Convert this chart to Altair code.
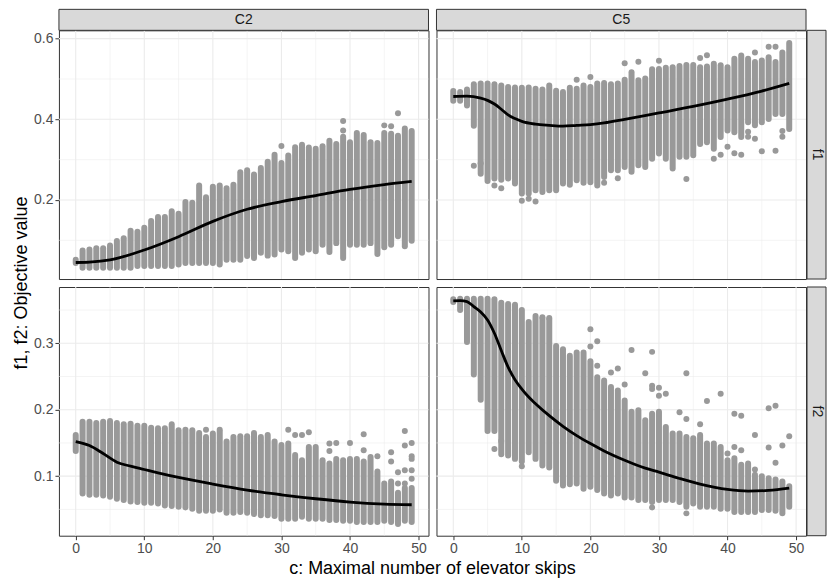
import altair as alt
import pandas as pd

# ---------------- data ----------------
C_VALUES = list(range(50))

# C2 / f1 : extent of the dense column of points at each c
C2_F1_LO = [0.044, 0.032, 0.032, 0.032, 0.032, 0.032, 0.032, 0.032, 0.032, 0.036,
            0.036, 0.036, 0.036, 0.036, 0.036, 0.040, 0.044, 0.044, 0.044, 0.044,
            0.044, 0.040, 0.052, 0.052, 0.052, 0.061, 0.056, 0.069, 0.062, 0.065,
            0.077, 0.073, 0.056, 0.069, 0.077, 0.073, 0.089, 0.071, 0.093, 0.056,
            0.089, 0.089, 0.089, 0.093, 0.066, 0.083, 0.089, 0.110, 0.085, 0.099]
C2_F1_HI = [0.052, 0.075, 0.077, 0.080, 0.080, 0.087, 0.098, 0.105, 0.124, 0.121,
            0.131, 0.148, 0.158, 0.158, 0.172, 0.166, 0.195, 0.193, 0.236, 0.207,
            0.233, 0.236, 0.229, 0.238, 0.269, 0.274, 0.263, 0.279, 0.295, 0.312,
            0.292, 0.310, 0.331, 0.337, 0.330, 0.327, 0.333, 0.347, 0.339, 0.357,
            0.343, 0.366, 0.361, 0.343, 0.341, 0.366, 0.364, 0.359, 0.377, 0.371]
C2_F1_OUT_X = [30, 39, 39, 45, 46, 47]
C2_F1_OUT_Y = [0.334, 0.396, 0.372, 0.385, 0.383, 0.415]
C2_F1_FIT_X = [0, 2, 5, 10, 15, 20, 25, 30, 35, 40, 45, 49]
C2_F1_FIT_Y = [0.045, 0.046, 0.0515, 0.076, 0.109, 0.147, 0.177, 0.196, 0.211, 0.226,
               0.238, 0.246]

# C5 / f1
C5_F1_LO = [0.446, 0.446, 0.434, 0.384, 0.265, 0.247, 0.253, 0.250, 0.253, 0.241,
            0.216, 0.216, 0.224, 0.220, 0.224, 0.224, 0.241, 0.238, 0.249, 0.243,
            0.244, 0.236, 0.257, 0.274, 0.274, 0.282, 0.270, 0.286, 0.282, 0.302,
            0.315, 0.302, 0.278, 0.307, 0.307, 0.311, 0.339, 0.343, 0.327, 0.356,
            0.372, 0.368, 0.356, 0.393, 0.385, 0.393, 0.401, 0.413, 0.413, 0.376]
C5_F1_HI = [0.470, 0.468, 0.474, 0.487, 0.489, 0.489, 0.487, 0.484, 0.480, 0.479,
            0.478, 0.479, 0.476, 0.474, 0.484, 0.471, 0.468, 0.478, 0.476, 0.484,
            0.480, 0.489, 0.490, 0.487, 0.489, 0.498, 0.517, 0.497, 0.501, 0.524,
            0.525, 0.528, 0.529, 0.532, 0.535, 0.535, 0.529, 0.531, 0.538, 0.534,
            0.529, 0.550, 0.558, 0.550, 0.542, 0.546, 0.554, 0.542, 0.566, 0.589]
C5_F1_OUT_X = [3, 4, 6, 7, 10, 11, 12, 18, 20, 22, 24, 25, 27, 30, 34, 36, 37, 38, 39,
               40, 41, 42, 43, 43, 44, 44, 45, 46, 47, 47, 48, 48]
C5_F1_OUT_Y = [0.285, 0.291, 0.236, 0.229, 0.198, 0.203, 0.196, 0.498, 0.505, 0.243,
               0.254, 0.539, 0.543, 0.545, 0.252, 0.552, 0.559, 0.302, 0.312, 0.332,
               0.316, 0.312, 0.369, 0.357, 0.566, 0.352, 0.321, 0.580, 0.580, 0.322,
               0.371, 0.357]
C5_F1_FIT_X = [0, 2, 4, 5, 6, 7, 8, 9, 10, 12, 14, 16, 18, 20, 22, 25, 30, 35, 40, 45, 49]
C5_F1_FIT_Y = [0.4566, 0.4574, 0.4525, 0.447, 0.438, 0.425, 0.411, 0.402, 0.395, 0.388,
               0.385, 0.383, 0.385, 0.387, 0.391, 0.400, 0.416, 0.432, 0.450, 0.470, 0.489]

# C2 / f2
C2_F2_LO = [0.138, 0.074, 0.072, 0.072, 0.071, 0.069, 0.066, 0.064, 0.062, 0.061,
            0.060, 0.060, 0.059, 0.056, 0.055, 0.054, 0.053, 0.051, 0.048, 0.048,
            0.048, 0.050, 0.045, 0.045, 0.046, 0.045, 0.043, 0.041, 0.041, 0.040,
            0.036, 0.036, 0.036, 0.039, 0.036, 0.036, 0.036, 0.034, 0.034, 0.033,
            0.033, 0.031, 0.031, 0.031, 0.031, 0.033, 0.031, 0.028, 0.033, 0.031]
C2_F2_HI = [0.162, 0.182, 0.182, 0.180, 0.182, 0.183, 0.180, 0.178, 0.179, 0.176,
            0.176, 0.173, 0.172, 0.172, 0.178, 0.169, 0.170, 0.169, 0.165, 0.159,
            0.164, 0.167, 0.152, 0.159, 0.160, 0.160, 0.165, 0.159, 0.162, 0.152,
            0.147, 0.149, 0.132, 0.124, 0.144, 0.144, 0.124, 0.119, 0.126, 0.124,
            0.126, 0.126, 0.122, 0.129, 0.107, 0.089, 0.092, 0.075, 0.082, 0.082]
C2_F2_OUT_X = [19, 21, 31, 32, 33, 34, 37, 37, 38, 40, 42, 42, 44, 46, 46, 47, 47,
               48, 48, 48, 48, 49, 49, 49, 49, 49]
C2_F2_OUT_Y = [0.170, 0.170, 0.170, 0.162, 0.162, 0.166, 0.149, 0.138, 0.150, 0.150,
               0.163, 0.139, 0.130, 0.136, 0.122, 0.106, 0.089, 0.168, 0.146, 0.109,
               0.089, 0.150, 0.130, 0.126, 0.109, 0.096]
C2_F2_FIT_X = [0, 2, 4, 6, 8, 10, 12, 15, 20, 25, 30, 35, 40, 45, 49]
C2_F2_FIT_Y = [0.152, 0.146, 0.134, 0.121, 0.115, 0.110, 0.105, 0.098, 0.088, 0.079,
               0.072, 0.066, 0.061, 0.058, 0.057]

# C5 / f2
C5_F2_LO = [0.362, 0.350, 0.302, 0.253, 0.215, 0.168, 0.168, 0.133, 0.131, 0.126,
            0.122, 0.136, 0.126, 0.116, 0.113, 0.093, 0.086, 0.088, 0.089, 0.081,
            0.084, 0.079, 0.074, 0.071, 0.074, 0.068, 0.068, 0.064, 0.064, 0.061,
            0.064, 0.064, 0.064, 0.061, 0.054, 0.059, 0.054, 0.054, 0.054, 0.051,
            0.051, 0.046, 0.046, 0.046, 0.046, 0.049, 0.049, 0.048, 0.044, 0.054]
C5_F2_HI = [0.366, 0.367, 0.367, 0.367, 0.367, 0.367, 0.366, 0.361, 0.359, 0.358,
            0.350, 0.332, 0.341, 0.337, 0.336, 0.296, 0.291, 0.281, 0.286, 0.286,
            0.273, 0.249, 0.244, 0.234, 0.229, 0.214, 0.197, 0.199, 0.184, 0.194,
            0.197, 0.174, 0.164, 0.164, 0.159, 0.157, 0.162, 0.149, 0.149, 0.144,
            0.124, 0.127, 0.117, 0.119, 0.102, 0.100, 0.097, 0.095, 0.092, 0.085]
C5_F2_OUT_X = [6, 7, 10, 13, 14, 20, 20, 21, 21, 23, 24, 25, 26, 28, 29, 29, 29, 29,
               30, 30, 31, 33, 34, 34, 34, 36, 37, 39, 40, 41, 41, 42, 42, 44, 44,
               46, 46, 47, 47, 48, 49]
C5_F2_OUT_Y = [0.141, 0.153, 0.115, 0.339, 0.338, 0.321, 0.295, 0.303, 0.266, 0.256,
               0.262, 0.238, 0.290, 0.255, 0.287, 0.236, 0.231, 0.053, 0.233, 0.221,
               0.224, 0.196, 0.255, 0.186, 0.044, 0.178, 0.213, 0.224, 0.134, 0.194,
               0.144, 0.191, 0.139, 0.162, 0.110, 0.202, 0.143, 0.206, 0.120, 0.146,
               0.160]
C5_F2_FIT_X = [0, 1, 2, 3, 4, 5, 6, 7, 8, 9, 10, 11, 12, 14, 16, 18, 20, 22, 25, 28,
               30, 33, 36, 40, 43, 46, 49]
C5_F2_FIT_Y = [0.3636, 0.364, 0.3626, 0.355, 0.347, 0.335, 0.315, 0.289, 0.264, 0.245,
               0.231, 0.219, 0.209, 0.191, 0.175, 0.161, 0.149, 0.138, 0.124, 0.112,
               0.106, 0.0965, 0.088, 0.080, 0.0775, 0.0785, 0.082]

COL_LABELS = ["C2", "C5"]
ROW_LABELS = ["f1", "f2"]
X_TITLE = ["c: Maximal number of elevator skips"]
Y_TITLE = ["f1, f2: Objective value"]

X_DOMAIN = [-2.45, 51.45]
Y_DOMAIN_F1 = [0.004, 0.6207]
Y_DOMAIN_F2 = [0.0104, 0.3846]
X_MAJOR = [0, 10, 20, 30, 40, 50]
X_MINOR = [5, 15, 25, 35, 45]
Y_MAJOR_F1 = [0.2, 0.4, 0.6]
Y_MINOR_F1 = [0.1, 0.3, 0.5]
Y_MAJOR_F2 = [0.1, 0.2, 0.3]
Y_MINOR_F2 = [0.05, 0.15, 0.25, 0.35]

# ---------------- styling ----------------
W, H = 370, 249
STRIP = 21
FONT = "Liberation Sans"
POINT = "#999999"
BORDER = "#333333"
GRID = "#EBEBEB"
TICK_FS = 14
TITLE_FS = 18


def axis_spec(values, fmt, show):
    if not show:
        return None
    return alt.Axis(values=values, format=fmt, grid=False, domain=False,
                    ticks=True, tickColor=BORDER, tickSize=4, tickWidth=1,
                    labelColor="#4D4D4D", labelFontSize=TICK_FS, labelFont=FONT,
                    labelPadding=2, title=None)


def panel(lo, hi, ox, oy, fx, fy, ydom, ymaj, ymin, col_i, row_i):
    left = col_i == 0
    bottom = row_i == 1
    xs = alt.Scale(domain=X_DOMAIN, nice=False, zero=False)
    ys = alt.Scale(domain=ydom, nice=False, zero=False)
    xax = axis_spec(X_MAJOR, "d", bottom)
    yax = axis_spec(ymaj, ".1f", left)

    layers = []
    cols = pd.DataFrame({"c": C_VALUES, "lo": lo, "hi": hi})
    # first layer carries both axes
    layers.append(alt.Chart(cols).mark_rule(opacity=0).encode(
        x=alt.X("c:Q", scale=xs, axis=xax),
        y=alt.Y("lo:Q", scale=ys, axis=yax)))
    layers.append(alt.Chart(pd.DataFrame({"v": X_MINOR})).mark_rule(
        color=GRID, strokeWidth=0.55).encode(x=alt.X("v:Q", scale=xs, axis=xax)))
    layers.append(alt.Chart(pd.DataFrame({"v": ymin})).mark_rule(
        color=GRID, strokeWidth=0.55).encode(y=alt.Y("v:Q", scale=ys, axis=yax)))
    layers.append(alt.Chart(pd.DataFrame({"v": X_MAJOR})).mark_rule(
        color=GRID, strokeWidth=1.1).encode(x=alt.X("v:Q", scale=xs, axis=xax)))
    layers.append(alt.Chart(pd.DataFrame({"v": ymaj})).mark_rule(
        color=GRID, strokeWidth=1.1).encode(y=alt.Y("v:Q", scale=ys, axis=yax)))

    layers.append(alt.Chart(cols).mark_rule(
        color=POINT, strokeWidth=6, strokeCap="round").encode(
        x=alt.X("c:Q", scale=xs, axis=xax),
        y=alt.Y("lo:Q", scale=ys, axis=yax),
        y2="hi:Q"))

    outs = pd.DataFrame({"c": ox, "v": oy})
    layers.append(alt.Chart(outs).mark_circle(
        color=POINT, opacity=1, size=36).encode(
        x=alt.X("c:Q", scale=xs, axis=xax),
        y=alt.Y("v:Q", scale=ys, axis=yax)))

    fit = pd.DataFrame({"c": fx, "v": fy})
    layers.append(alt.Chart(fit).mark_line(
        color="#000000", strokeWidth=2.8, interpolate="monotone").encode(
        x=alt.X("c:Q", scale=xs, axis=xax),
        y=alt.Y("v:Q", scale=ys, axis=yax)))

    if row_i == 0:
        lab = pd.DataFrame({"t": [COL_LABELS[col_i]]})
        layers.append(alt.Chart(lab).mark_rect(
            fill="#D9D9D9", stroke=BORDER, strokeWidth=1).encode(
            x=alt.value(0), x2=alt.value(W), y=alt.value(-STRIP), y2=alt.value(0)))
        layers.append(alt.Chart(lab).mark_text(
            font=FONT, fontSize=TICK_FS, color="#1A1A1A").encode(
            x=alt.value(W / 2), y=alt.value(-STRIP / 2), text="t:N"))
    if col_i == 1:
        lab = pd.DataFrame({"t": [ROW_LABELS[row_i]]})
        layers.append(alt.Chart(lab).mark_rect(
            fill="#D9D9D9", stroke=BORDER, strokeWidth=1).encode(
            x=alt.value(W + 1), x2=alt.value(W + 20), y=alt.value(0), y2=alt.value(H)))
        layers.append(alt.Chart(lab).mark_text(
            font=FONT, fontSize=TICK_FS, color="#1A1A1A", angle=90).encode(
            x=alt.value(W + 10.5), y=alt.value(H / 2), text="t:N"))
    if row_i == 0 and col_i == 0:
        layers.append(alt.Chart(pd.DataFrame({"t": Y_TITLE})).mark_text(
            font=FONT, fontSize=TITLE_FS, color="#000000", angle=270).encode(
            x=alt.value(-37), y=alt.value(H + 4), text="t:N"))
    if row_i == 1 and col_i == 0:
        layers.append(alt.Chart(pd.DataFrame({"t": X_TITLE})).mark_text(
            font=FONT, fontSize=TITLE_FS, color="#000000").encode(
            x=alt.value(W + 4), y=alt.value(H + 33), text="t:N"))

    return alt.layer(*layers).properties(width=W, height=H)


p11 = panel(C2_F1_LO, C2_F1_HI, C2_F1_OUT_X, C2_F1_OUT_Y, C2_F1_FIT_X, C2_F1_FIT_Y,
            Y_DOMAIN_F1, Y_MAJOR_F1, Y_MINOR_F1, 0, 0)
p12 = panel(C5_F1_LO, C5_F1_HI, C5_F1_OUT_X, C5_F1_OUT_Y, C5_F1_FIT_X, C5_F1_FIT_Y,
            Y_DOMAIN_F1, Y_MAJOR_F1, Y_MINOR_F1, 1, 0)
p21 = panel(C2_F2_LO, C2_F2_HI, C2_F2_OUT_X, C2_F2_OUT_Y, C2_F2_FIT_X, C2_F2_FIT_Y,
            Y_DOMAIN_F2, Y_MAJOR_F2, Y_MINOR_F2, 0, 1)
p22 = panel(C5_F2_LO, C5_F2_HI, C5_F2_OUT_X, C5_F2_OUT_Y, C5_F2_FIT_X, C5_F2_FIT_Y,
            Y_DOMAIN_F2, Y_MAJOR_F2, Y_MINOR_F2, 1, 1)

chart = alt.concat(p11, p12, p21, p22, columns=2, spacing=8, bounds="flush").properties(
    padding={"left": 4, "top": 0, "right": 0, "bottom": 0},
    background="#FFFFFF",
).configure_view(stroke=BORDER, strokeWidth=1)

chart.save("out.html", embed_options={"renderer": "svg", "actions": False})
